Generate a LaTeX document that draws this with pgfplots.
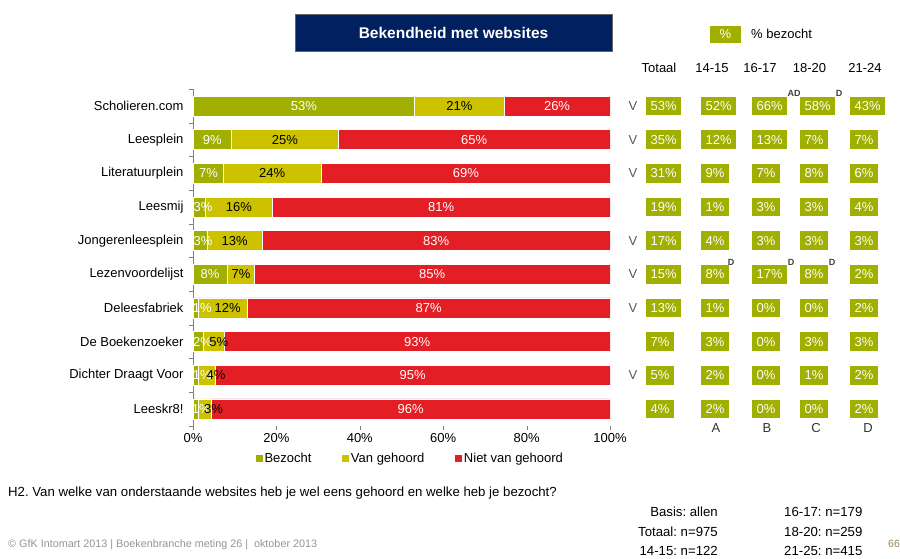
\documentclass[border=0pt]{standalone}
\usepackage{pgfplots}
\pgfplotsset{compat=1.18}
\usepackage{pgfplotstable}
\usepackage{fontspec}
\setmainfont{Liberation Sans}
\frenchspacing
\definecolor{cGreen}{HTML}{A0AF00}
\definecolor{cYellow}{HTML}{CCC200}
\definecolor{cRed}{HTML}{E31E24}
\definecolor{cNavy}{HTML}{002060}
\newcommand{\fs}{\fontsize{13}{15}\selectfont}

% bar segments (row 9 = top)
\pgfplotstableread{
row g y r
9 53.2 21.4 25.4
8 9.3 25.5 65.2
7 7.4 23.5 69.1
6 3.0 16.0 81.0
5 3.4 13.2 83.4
4 8.2 6.5 85.3
3 1.2 11.8 87.0
2 2.5 5.0 92.5
1 1.4 3.9 94.7
0 1.2 3.2 95.6
}\bars

% label positions and printed values
\pgfplotstableread{
row gx g yx y rx r
9 26.6 53 63.9 21 87.3 26
8 4.65 9 22.05 25 67.4 65
7 3.7 7 19.0 24 65.45 69
6 2.4 3 11.0 16 59.5 81
5 2.4 3 10.0 13 58.3 83
4 4.1 8 11.5 7 57.35 85
3 2.2 1 8.3 12 56.5 87
2 2.3 2 6.2 5 53.75 93
1 2.2 1 5.5 4 52.65 95
0 2.0 1 4.9 3 52.2 96
}\labels

% % bezocht per group
\pgfplotstableread{
x row v
646 9 53
701 9 52
752 9 66
800 9 58
850 9 43
646 8 35
701 8 12
752 8 13
800 8 7
850 8 7
646 7 31
701 7 9
752 7 7
800 7 8
850 7 6
646 6 19
701 6 1
752 6 3
800 6 3
850 6 4
646 5 17
701 5 4
752 5 3
800 5 3
850 5 3
646 4 15
701 4 8
752 4 17
800 4 8
850 4 2
646 3 13
701 3 1
752 3 0
800 3 0
850 3 2
646 2 7
701 2 3
752 2 0
800 2 3
850 2 3
646 1 5
701 1 2
752 1 0
800 1 1
850 1 2
646 0 4
701 0 2
752 0 0
800 0 0
850 0 2
}\visits

\pgfplotstableread{
x row v
633 9 V
633 8 V
633 7 V
633 5 V
633 4 V
633 3 V
633 1 V
}\vmarks

\pgfplotstableread{
x row v
794 9.37 AD
839 9.37 D
731 4.35 D
791 4.35 D
832 4.35 D
}\sig

\begin{document}
\begin{tikzpicture}
\path[use as bounding box] (0,0) rectangle (900pt,559pt);

\begin{axis}[
  at={(193pt,133.2pt)}, anchor=south west,
  scale only axis, width=417pt, height=336.6pt,
  xbar stacked, bar width=20pt,
  xmin=0, xmax=100, ymin=-0.5, ymax=9.5,
  axis y line*=left, axis x line*=bottom,
  x axis line style={draw=none},
  y axis line style={-, draw=gray},
  xtick={0,20,40,60,80,100},
  xticklabels={0\%,20\%,40\%,60\%,80\%,100\%},
  ytick={0,...,9},
  yticklabels={Leeskr8!,Dichter Draagt Voor,De Boekenzoeker,Deleesfabriek,Lezenvoordelijst,Jongerenleesplein,Leesmij,Literatuurplein,Leesplein,Scholieren.com},
  minor ytick={-0.5,0.5,...,9.5},
  tick align=outside,
  major tick length=4pt, minor tick length=4pt,
  every major x tick/.append style={draw=gray},
  every major y tick/.append style={draw=none},
  every minor y tick/.append style={draw=gray},
  tick label style={font=\fs, text=black},
  yticklabel style={xshift=-2pt},
  legend style={at={(0.5216,-0.075)}, anchor=north, draw=none, fill=none,
    font=\fs, legend columns=3, inner sep=0pt,
    /tikz/every even column/.append style={column sep=29pt}},
  legend image code/.code={\fill[#1,draw=none] (-2pt,-3pt) rectangle (4.5pt,3.5pt);},
]
\addplot[fill=cGreen, draw=white, line width=0.8pt] table[x=g,y=row]{\bars};
\addplot[fill=cYellow, draw=white, line width=0.8pt] table[x=y,y=row]{\bars};
\addplot[fill=cRed, draw=white, line width=0.8pt] table[x=r,y=row]{\bars};
\legend{Bezocht, Van gehoord, Niet van gehoord}
\end{axis}

% labels on bars
\begin{axis}[
  at={(193pt,133.2pt)}, anchor=south west,
  scale only axis, width=417pt, height=336.6pt,
  xmin=0, xmax=100, ymin=-0.5, ymax=9.5,
  hide axis, clip=false,
]
\addplot[only marks, mark=none, point meta=explicit symbolic,
  nodes near coords={\pgfplotspointmeta\%},
  nodes near coords style={anchor=center, text=white, font=\fs, inner sep=0pt}]
  table[x=gx,y=row,meta=g]{\labels};
\addplot[only marks, mark=none, point meta=explicit symbolic,
  nodes near coords={\pgfplotspointmeta\%},
  nodes near coords style={anchor=center, text=black, font=\fs, inner sep=0pt}]
  table[x=yx,y=row,meta=y]{\labels};
\addplot[only marks, mark=none, point meta=explicit symbolic,
  nodes near coords={\pgfplotspointmeta\%},
  nodes near coords style={anchor=center, text=white, font=\fs, inner sep=0pt}]
  table[x=rx,y=row,meta=r]{\labels};
\end{axis}

% right-hand table
\begin{axis}[
  at={(610pt,133.2pt)}, anchor=south west,
  scale only axis, width=290pt, height=336.6pt,
  xmin=610, xmax=900, ymin=-0.5, ymax=9.5,
  hide axis, clip=false,
]
\addplot[only marks, mark=none, point meta=explicit symbolic,
  nodes near coords={\pgfplotspointmeta\%},
  nodes near coords style={anchor=west, fill=cGreen, text=white, font=\fs,
    inner xsep=4.5pt, inner ysep=0pt, minimum height=18.5pt}]
  table[x=x,y=row,meta=v]{\visits};
\addplot[only marks, mark=none, point meta=explicit symbolic,
  nodes near coords={\pgfplotspointmeta},
  nodes near coords style={anchor=center, text=black!65, font=\fs, inner sep=0pt}]
  table[x=x,y=row,meta=v]{\vmarks};
\addplot[only marks, mark=none, point meta=explicit symbolic,
  nodes near coords={\pgfplotspointmeta},
  nodes near coords style={anchor=center, text=black!75, font=\fontsize{9}{10}\selectfont\bfseries, inner sep=0pt}]
  table[x=x,y=row,meta=v]{\sig};
\end{axis}

% title
\node[fill=cNavy, draw=black!60, line width=0.8pt, minimum width=317pt, minimum height=37pt,
  inner sep=0pt, text=white, font=\fontsize{15.5}{17}\selectfont\bfseries] at (453.5pt,526.5pt) {Bekendheid met websites};
% top legend
\node[fill=cGreen, minimum width=31pt, minimum height=17pt, inner sep=0pt, text=white, font=\fs] at (725.5pt,524.5pt) {\%};
\node[anchor=west, font=\fs, inner sep=0pt] at (751pt,525pt) {\% bezocht};
% column headers
\begin{scope}[every node/.style={font=\fs, inner sep=0pt}]
\node at (659pt,491pt) {Totaal};
\node at (712pt,491pt) {14-15};
\node at (760pt,491pt) {16-17};
\node at (809.5pt,491pt) {18-20};
\node at (865pt,491pt) {21-24};
\node[text=black!80] at (716pt,131pt) {A};
\node[text=black!80] at (767pt,131pt) {B};
\node[text=black!80] at (816pt,131pt) {C};
\node[text=black!80] at (868pt,131pt) {D};
\end{scope}
% footer
\node[anchor=west, inner sep=0pt, font=\fontsize{13.2}{15}\selectfont] at (8pt,66pt)
  {H2. Van welke van onderstaande websites heb je wel eens gehoord en welke heb je bezocht?};
\node[anchor=west, inner sep=0pt, text=black!42, font=\fontsize{10.8}{12}\selectfont] at (8pt,14pt)
  {\textcopyright\ GfK Intomart 2013 | Boekenbranche meting 26 |\ \ oktober 2013};
\begin{scope}[every node/.style={inner sep=0pt, font=\fontsize{13.2}{15}\selectfont}]
\node[anchor=east] at (718pt,47pt) {Basis: allen};
\node[anchor=east] at (718pt,27pt) {Totaal: n=975};
\node[anchor=east] at (718pt,8pt) {14-15: n=122};
\node[anchor=west] at (784pt,47pt) {16-17: n=179};
\node[anchor=west] at (784pt,27pt) {18-20: n=259};
\node[anchor=west] at (784pt,8pt) {21-25: n=415};
\end{scope}
\node[anchor=west, inner sep=0pt, text=brown!50!gray, font=\fontsize{10.5}{12}\selectfont] at (888pt,15pt) {66};
\end{tikzpicture}
\end{document}
